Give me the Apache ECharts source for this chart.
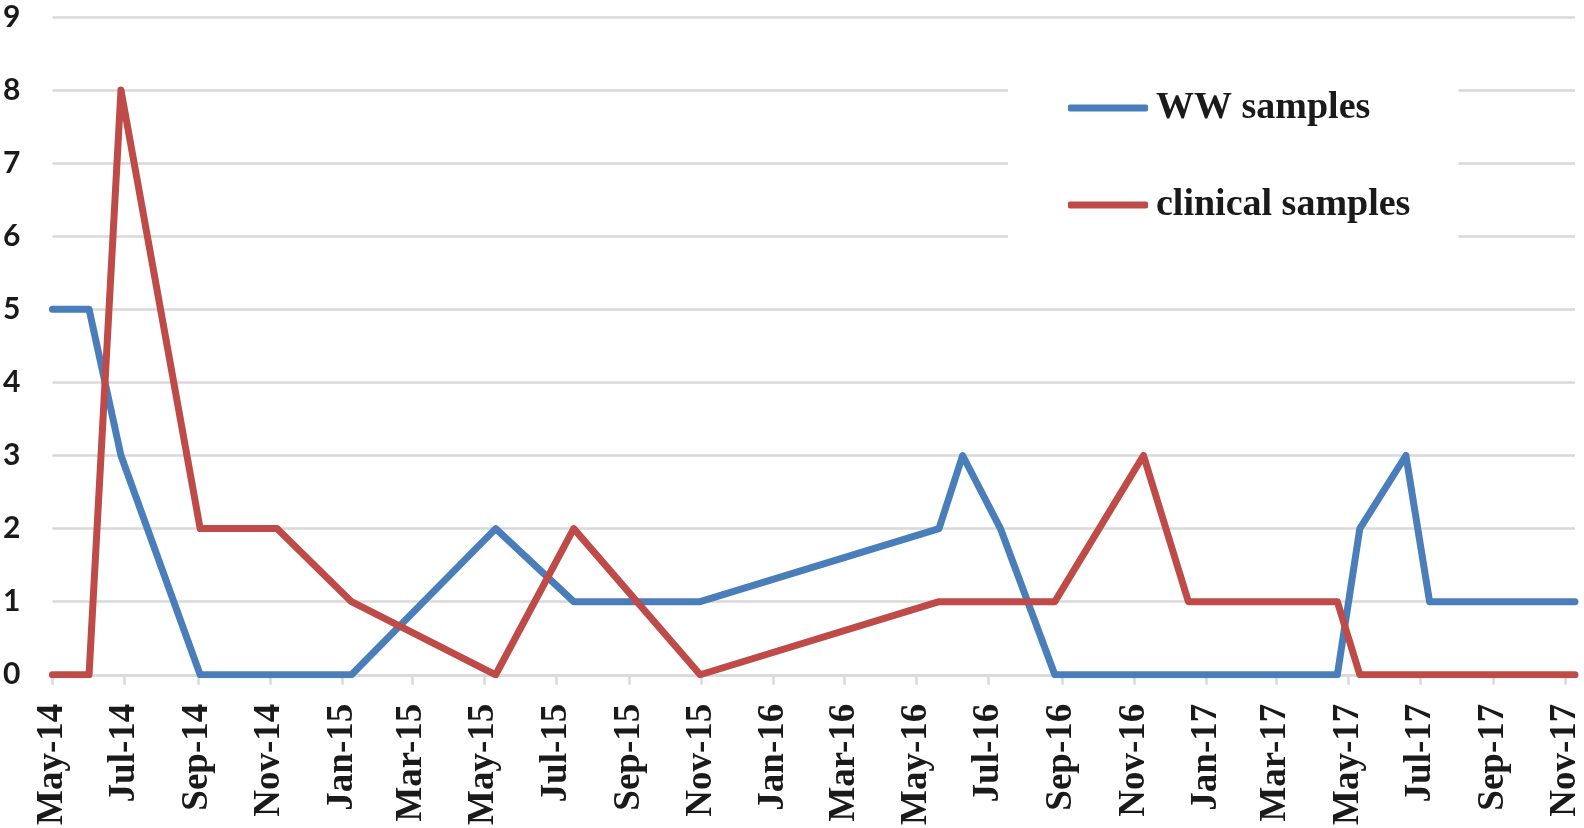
<!DOCTYPE html>
<html>
<head>
<meta charset="utf-8">
<script src="https://cdn.jsdelivr.net/npm/echarts@6/dist/echarts.min.js"></script>
<style>
html,body{margin:0;padding:0;background:#fff;}
#chart{width:1584px;height:828px;}
</style>
</head>
<body>
<div id="chart"></div>
<script>
// ---- data ----
const sampleDates = ['2014-05-01','2014-06-01','2014-06-28','2014-09-03','2014-11-07','2015-01-09','2015-05-11','2015-07-16','2015-10-31','2016-05-20','2016-06-09','2016-07-11','2016-08-26','2016-11-09','2016-12-17','2017-04-22','2017-05-11','2017-06-19','2017-07-09','2017-11-09'];
const wwSamples       = [5,5,3,0,0,0,2,1,1,2,3,2,0,0,0,0,2,3,1,1];
const clinicalSamples = [0,0,8,2,2,1,0,2,0,1,1,1,1,3,1,1,0,0,0,0];
const tickDates  = ['2014-05-01','2014-07-01','2014-09-01','2014-11-01','2015-01-01','2015-03-01','2015-05-01','2015-07-01','2015-09-01','2015-11-01','2016-01-01','2016-03-01','2016-05-01','2016-07-01','2016-09-01','2016-11-01','2017-01-01','2017-03-01','2017-05-01','2017-07-01','2017-09-01','2017-11-01'];
const tickLabels = ['May-14','Jul-14','Sep-14','Nov-14','Jan-15','Mar-15','May-15','Jul-15','Sep-15','Nov-15','Jan-16','Mar-16','May-16','Jul-16','Sep-16','Nov-16','Jan-17','Mar-17','May-17','Jul-17','Sep-17','Nov-17'];
const yMin = 0, yMax = 9, yStep = 1;

// day number (days since first sample date), used as x on a linear date scale
function dayNum(s){ const p = s.split('-').map(Number); return Date.UTC(p[0], p[1]-1, p[2]) / 86400000; }
const day0 = dayNum(sampleDates[0]);
const dx = s => dayNum(s) - day0;
const tickX = tickDates.map(dx);
const wwData = sampleDates.map((d,i)=>[dx(d), wwSamples[i]]);
const clData = sampleDates.map((d,i)=>[dx(d), clinicalSamples[i]]);

const chart = echarts.init(document.getElementById('chart'), null, {renderer:'canvas'});
const gridColor = '#d9d9d9';
chart.setOption({
  animation:false,
  backgroundColor:'#ffffff',
  grid:{left:50.7, right:7, top:17, bottom:152, containLabel:false},
  xAxis:{
    type:'value',
    min: 0,
    max: dx(sampleDates[sampleDates.length-1]),
    axisLine:{show:true, lineStyle:{color:gridColor, width:2.5}},
    axisTick:{show:true, length:10, lineStyle:{color:gridColor, width:2.5}, customValues: tickX},
    splitLine:{show:false},
    axisLabel:{
      customValues: tickX,
      rotate:90,
      margin:29,
      fontFamily:'Liberation Serif',
      fontWeight:'bold',
      fontSize:37,
      color:'#1a1a1a',
      formatter:function(v){
        const i = tickX.indexOf(v);
        return i>=0 ? tickLabels[i] : '';
      }
    }
  },
  yAxis:{
    type:'value',
    min:yMin, max:yMax, interval:yStep,
    axisLine:{show:false},
    axisTick:{show:false},
    splitLine:{show:true, lineStyle:{color:gridColor, width:2.5}},
    axisLabel:{
      margin:32,
      fontFamily:'Lato',
      fontWeight:'bold',
      fontSize:30,
      color:'#1a1a1a'
    }
  },
  legend:{
    orient:'vertical',
    left:1008,
    top:65,
    backgroundColor:'#ffffff',
    padding:[23,48,20,60],
    icon:'roundRect',
    itemWidth:80,
    itemHeight:7,
    itemGap:57,
    textStyle:{
      fontFamily:'Liberation Serif',
      fontWeight:'bold',
      fontSize:38,
      lineHeight:40,
      color:'#1a1a1a',
      padding:[0,0,0,3]
    },
    data:['WW samples','clinical samples']
  },
  series:[
    {
      name:'WW samples',
      type:'line',
      data:wwData,
      symbol:'none',
      color:'#4a7ebb',
      lineStyle:{color:'#4a7ebb', width:7, cap:'round', join:'round'}
    },
    {
      name:'clinical samples',
      type:'line',
      data:clData,
      symbol:'none',
      color:'#be4b48',
      lineStyle:{color:'#be4b48', width:7, cap:'round', join:'round'}
    }
  ]
});
</script>
</body>
</html>
